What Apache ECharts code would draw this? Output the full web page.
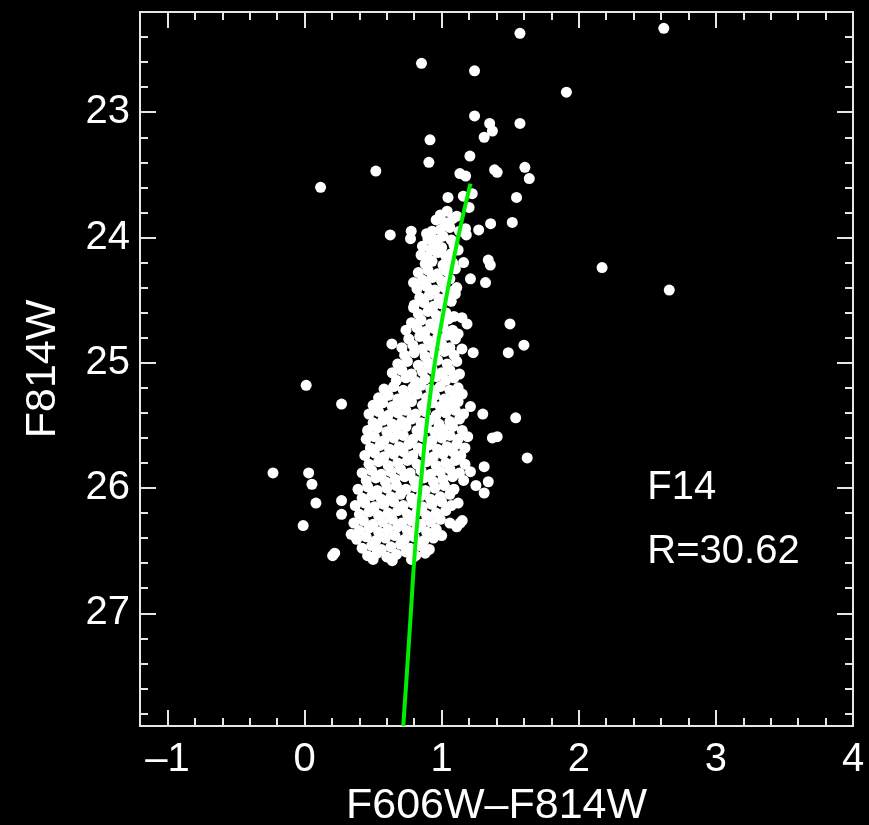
<!DOCTYPE html>
<html>
<head>
<meta charset="utf-8">
<title>F14 CMD</title>
<script src="https://cdn.jsdelivr.net/npm/echarts@6.0.0/dist/echarts.min.js"></script>
<style>
html, body { margin: 0; padding: 0; background: #000; }
#chart { width: 869px; height: 825px; }
</style>
</head>
<body>
<div id="chart"></div>
<script>
// colour (F606W-F814W), magnitude (F814W)
const outlierPts = [
    [0.853,22.61],[1.24,22.67],[1.571,22.37],[2.62,22.33],[1.91,22.84],
    [1.24,23.03],[1.571,23.09],[1.35,23.09],[1.37,23.15],[1.31,23.20],[0.915,23.22],[1.206,23.35],[0.907,23.40],
    [0.52,23.47],[0.117,23.60],[1.386,23.46],[1.405,23.48],[1.607,23.44],[1.639,23.53],[1.133,23.49],[1.175,23.51],
    [1.546,23.68],[1.515,23.88],
    [2.17,24.24],[2.66,24.42],[1.498,24.69],[1.60,24.86],[1.486,24.92],[1.54,25.44],[1.405,25.59],[1.624,25.76],
    [0.012,25.18],[0.27,25.33],[-0.23,25.88],[0.03,25.88],[0.054,25.97],[0.083,26.12],[-0.01,26.30],
    [0.27,26.10],[0.27,26.21],[0.22,26.52],[0.205,26.54],[0.34,26.37],
    [0.625,23.98],[0.778,23.95],[0.773,24.01],[1.34,24.18],[1.355,24.22],[1.32,24.36],[1.21,24.33],
    [0.795,24.36],[0.795,24.56],[0.637,24.85],[1.23,24.92],[1.148,24.89],[1.12,24.77],[1.148,24.64],[1.185,24.69],
    [1.30,25.41],[1.21,25.35],[1.37,25.60],[1.31,25.83],[1.34,25.95],[1.31,26.04],[1.25,25.98],[1.21,25.87],
    [1.12,26.12],[1.135,26.28],[1.11,26.31],[1.15,26.26],
    [1.046,23.68],[1.158,23.67],[1.223,23.65],[1.2,23.76],[0.99,23.82],[1.04,23.79],[1.11,23.83],
    [0.89,23.97],[0.93,23.95],[1.174,23.93],[1.18,23.98],[1.27,23.94],[1.357,23.89],[1.04,23.89],
    [0.968,24.02],[0.92,24.1],[0.895,24.16],[1.16,24.20],[1.12,24.10],[1.11,24.40]
];

const cloudPts = [
    [0.96,23.86],[1.02,23.88],[1.08,23.85],
    [0.99,23.94],[1.06,23.92],[1.13,23.95],
    [0.90,24.01],[1.01,23.99],[1.07,24.02],
    [0.86,24.07],[0.94,24.05],[1.00,24.08],[1.09,24.06],
    [0.85,24.14],[0.97,24.12],[1.03,24.15],[1.07,24.13],
    [0.88,24.21],[0.93,24.19],[1.01,24.22],[1.08,24.2],
    [0.83,24.28],[0.90,24.26],[0.97,24.29],[1.04,24.27],[1.10,24.25],
    [0.86,24.34],[0.93,24.32],[1.00,24.35],[1.06,24.33],
    [0.82,24.41],[0.89,24.39],[0.95,24.42],[1.02,24.4],[1.08,24.43],
    [0.84,24.48],[0.91,24.46],[0.98,24.49],[1.04,24.47],[1.10,24.45],
    [0.80,24.54],[0.87,24.52],[0.94,24.55],[1.00,24.53],[1.07,24.51],
    [0.83,24.61],[0.90,24.59],[0.96,24.62],[1.03,24.6],[1.09,24.63],
    [0.78,24.68],[0.85,24.66],[0.92,24.69],[0.99,24.67],[1.05,24.65],
    [0.74,24.74],[0.82,24.72],[0.88,24.75],[0.95,24.73],[1.01,24.71],[1.08,24.74],
    [0.76,24.81],[0.84,24.79],[0.90,24.82],[0.97,24.8],[1.04,24.78],[1.10,24.81],
    [0.71,24.88],[0.79,24.86],[0.86,24.89],[0.93,24.87],[1.00,24.85],[1.06,24.88],
    [0.73,24.94],[0.80,24.92],[0.88,24.95],[0.95,24.93],[1.02,24.91],[1.09,24.94],
    [0.68,25.01],[0.75,24.99],[0.83,25.02],[0.90,25.0],[0.97,24.98],[1.04,25.01],[1.11,24.99],
    [0.64,25.08],[0.71,25.06],[0.78,25.09],[0.86,25.07],[0.93,25.05],[1.00,25.08],[1.06,25.06],[1.13,25.09],
    [0.67,25.14],[0.74,25.12],[0.81,25.15],[0.88,25.13],[0.96,25.11],[1.03,25.14],[1.09,25.12],
    [0.58,25.21],[0.65,25.19],[0.72,25.22],[0.79,25.2],[0.85,25.18],[0.92,25.21],[0.99,25.19],[1.06,25.22],[1.12,25.2],
    [0.54,25.28],[0.61,25.26],[0.68,25.29],[0.75,25.27],[0.82,25.25],[0.89,25.28],[0.95,25.26],[1.02,25.29],[1.09,25.27],[1.15,25.25],
    [0.50,25.34],[0.57,25.32],[0.64,25.35],[0.71,25.33],[0.78,25.31],[0.86,25.34],[0.93,25.32],[0.99,25.35],[1.05,25.33],[1.12,25.31],
    [0.47,25.41],[0.54,25.39],[0.61,25.42],[0.68,25.4],[0.74,25.38],[0.81,25.41],[0.88,25.39],[0.96,25.42],[1.03,25.4],[1.10,25.38],[1.16,25.41],
    [0.50,25.48],[0.57,25.46],[0.64,25.49],[0.71,25.47],[0.78,25.45],[0.85,25.48],[0.91,25.46],[0.98,25.49],[1.06,25.47],[1.13,25.45],
    [0.46,25.54],[0.53,25.52],[0.60,25.55],[0.67,25.53],[0.74,25.51],[0.82,25.54],[0.89,25.52],[0.95,25.55],[1.01,25.53],[1.08,25.51],[1.15,25.54],
    [0.45,25.61],[0.51,25.59],[0.58,25.62],[0.65,25.6],[0.72,25.58],[0.79,25.61],[0.86,25.59],[0.93,25.62],[1.00,25.6],[1.06,25.58],[1.12,25.61],[1.19,25.59],
    [0.48,25.68],[0.55,25.66],[0.62,25.69],[0.69,25.67],[0.76,25.65],[0.83,25.68],[0.90,25.66],[0.97,25.69],[1.04,25.67],[1.11,25.65],[1.17,25.68],
    [0.44,25.74],[0.51,25.72],[0.58,25.75],[0.65,25.73],[0.72,25.71],[0.79,25.74],[0.87,25.72],[0.94,25.75],[1.01,25.73],[1.08,25.71],[1.14,25.74],
    [0.47,25.81],[0.54,25.79],[0.61,25.82],[0.68,25.8],[0.75,25.78],[0.82,25.81],[0.89,25.79],[0.96,25.82],[1.03,25.8],[1.10,25.78],[1.17,25.81],
    [0.42,25.88],[0.49,25.86],[0.56,25.89],[0.63,25.87],[0.70,25.85],[0.77,25.88],[0.85,25.86],[0.92,25.89],[0.99,25.87],[1.06,25.85],[1.13,25.88],
    [0.45,25.94],[0.52,25.92],[0.59,25.95],[0.66,25.93],[0.73,25.91],[0.80,25.94],[0.87,25.92],[0.94,25.95],[1.01,25.93],[1.08,25.91],[1.16,25.94],
    [0.39,26.01],[0.46,25.99],[0.53,26.02],[0.60,26.0],[0.67,25.98],[0.74,26.01],[0.81,25.99],[0.88,26.02],[0.95,26.0],[1.02,25.98],[1.09,26.01],
    [0.42,26.08],[0.49,26.06],[0.56,26.09],[0.63,26.07],[0.70,26.05],[0.78,26.08],[0.85,26.06],[0.92,26.09],[0.99,26.07],[1.06,26.05],
    [0.37,26.14],[0.44,26.12],[0.51,26.15],[0.58,26.13],[0.65,26.11],[0.72,26.14],[0.79,26.12],[0.86,26.15],[0.93,26.13],[1.00,26.11],[1.07,26.14],
    [0.40,26.21],[0.47,26.19],[0.54,26.22],[0.61,26.2],[0.68,26.18],[0.75,26.21],[0.82,26.19],[0.89,26.22],[0.96,26.2],[1.03,26.18],
    [0.36,26.28],[0.43,26.26],[0.50,26.29],[0.57,26.27],[0.64,26.25],[0.71,26.28],[0.78,26.26],[0.85,26.29],[0.92,26.27],[0.99,26.25],[1.06,26.28],
    [0.40,26.34],[0.47,26.32],[0.54,26.35],[0.61,26.33],[0.68,26.31],[0.75,26.34],[0.82,26.32],[0.89,26.35],[0.96,26.33],
    [0.38,26.41],[0.45,26.39],[0.52,26.42],[0.59,26.4],[0.66,26.38],[0.73,26.41],[0.80,26.39],[0.87,26.42],[0.94,26.4],[1.00,26.38],
    [0.42,26.48],[0.49,26.46],[0.56,26.49],[0.63,26.47],[0.70,26.45],[0.77,26.48],[0.84,26.46],[0.91,26.49],
    [0.46,26.54],[0.53,26.52],[0.60,26.55],[0.67,26.53],[0.74,26.51],[0.81,26.54],[0.88,26.52],
    [0.50,26.57],[0.64,26.58],[0.78,26.57]
];

// green ridge line
const lineColour = [1.21, 1.12, 1.03, 0.95, 0.89, 0.845, 0.805, 0.775, 0.745, 0.72];
const lineMag = [23.57, 24.0, 24.5, 25.0, 25.5, 26.0, 26.5, 27.0, 27.5, 27.9];

const xMajorTicks = [-1, 0, 1, 2, 3, 4];
const yMajorTicks = [23, 24, 25, 26, 27];

const noteText = ['F14', 'R=30.62'];
const noteX = [2.5, 2.5];
const noteY = [26.0, 26.51];

const FONT = "'Liberation Sans', Arial, Helvetica, sans-serif";
const FRAME = '#e6e6e6';

const xMin = -1.2, xMax = 4.0;
const yMin = 22.2, yMax = 27.9;

function makeAxis(isX, position, major, withLabels) {
    let ax = {
        type: 'value',
        position: position,
        min: isX ? xMin : yMin,
        max: isX ? xMax : yMax,
        splitLine: { show: false },
        axisLine: { show: !major, onZero: false, lineStyle: { color: FRAME, width: 2 } },
        axisTick: {
            show: true,
            inside: true,
            length: major ? 16 : 8,
            lineStyle: { color: FRAME, width: 2 }
        },
        axisLabel: { show: false }
    };
    if (!isX) ax.inverse = true;
    if (major) {
        ax.axisTick.customValues = isX ? xMajorTicks : yMajorTicks;
    } else {
        ax.interval = 0.2;
    }
    if (withLabels) {
        ax.axisLabel = {
            show: true,
            customValues: isX ? xMajorTicks : yMajorTicks,
            color: '#fff',
            fontFamily: FONT,
            fontSize: 40,
            margin: isX ? 14 : 10,
            formatter: v => String(v).replace('-', '\u2013')
        };
        ax.name = isX ? 'F606W\u2013F814W' : 'F814W';
        ax.nameLocation = 'middle';
        ax.nameGap = isX ? 55 : 75;
        ax.nameTextStyle = { color: '#fff', fontFamily: FONT, fontSize: 43 };
    }
    return ax;
}

let chart = echarts.init(document.getElementById('chart'));

let linePts = [];
for (let i = 0; i < lineColour.length; i++) linePts.push([lineColour[i], lineMag[i]]);

let notePts = [];
for (let i = 0; i < noteText.length; i++) notePts.push([noteX[i], noteY[i], noteText[i]]);

let option = {
    backgroundColor: '#000',
    animation: false,
    grid: { left: 140, right: 16, top: 12, bottom: 99, containLabel: false, outerBoundsMode: 'none' },
    xAxis: [
        makeAxis(true, 'bottom', false, false),
        makeAxis(true, 'bottom', true, true),
        makeAxis(true, 'top', false, false),
        makeAxis(true, 'top', true, false)
    ],
    yAxis: [
        makeAxis(false, 'left', false, false),
        makeAxis(false, 'left', true, true),
        makeAxis(false, 'right', false, false),
        makeAxis(false, 'right', true, false)
    ],
    series: [
        {
            type: 'scatter',
            data: outlierPts.concat(cloudPts),
            symbol: 'circle',
            symbolSize: 11,
            itemStyle: { color: '#fff', opacity: 1 },
            z: 2
        },
        {
            type: 'line',
            data: linePts,
            smooth: true,
            showSymbol: false,
            lineStyle: { color: '#00ee00', width: 4 },
            z: 3
        },
        {
            type: 'scatter',
            data: notePts,
            symbolSize: 0,
            itemStyle: { opacity: 1 },
            label: {
                show: true,
                position: 'right',
                distance: 0,
                color: '#ffffff',
                opacity: 1,
                fontFamily: FONT,
                fontSize: 40,
                formatter: p => p.data[2]
            },
            z: 4
        }
    ]
};
chart.setOption(option);
</script>
</body>
</html>
